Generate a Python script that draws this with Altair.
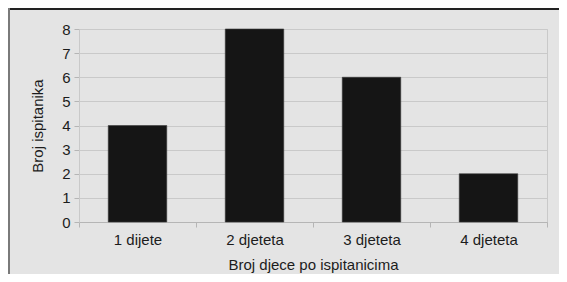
import altair as alt
import pandas as pd

categories = ["1 dijete", "2 djeteta", "3 djeteta", "4 djeteta"]
counts = [4, 8, 6, 2]
y_ticks = [0, 1, 2, 3, 4, 5, 6, 7, 8]

df = pd.DataFrame({"kategorija": categories, "broj": counts})

FONT = "Liberation Sans"
BG = "#e4e4e4"
GRID = "#c9c9c9"
TXT = "#1c1c1c"

bars = alt.Chart(df).mark_bar(
    width=alt.RelativeBandSize(0.5), color="#151515", stroke="#3a3a3a", strokeWidth=0.6
).encode(
    x=alt.X(
        "kategorija:N",
        sort=categories,
        scale=alt.Scale(paddingInner=0, paddingOuter=0),
        axis=alt.Axis(
            title="Broj djece po ispitanicima",
            labelAngle=0,
            tickBand="extent",
            tickSize=5,
            tickColor="#b5b5b5",
            domainColor="#b5b5b5",
            labelPadding=5,
            titlePadding=10,
            grid=False,
        ),
    ),
    y=alt.Y(
        "broj:Q",
        scale=alt.Scale(domain=[0, 8], nice=False),
        axis=alt.Axis(
            title="Broj ispitanika",
            values=y_ticks,
            tickSize=5,
            tickColor="#b5b5b5",
            domainColor="#c9c9c9",
            gridColor=GRID,
            labelPadding=4,
            titlePadding=16,
        ),
    ),
)

frame_df = pd.DataFrame({"k": [0]})
top_line = alt.Chart(frame_df).mark_rule(color="#222222", strokeWidth=2).encode(
    x=alt.value(-71), x2=alt.value(480), y=alt.value(-20)
)
left_line = alt.Chart(frame_df).mark_rule(color="#7a7a7a", strokeWidth=2).encode(
    x=alt.value(-70), y=alt.value(-21), y2=alt.value(245)
)

chart = alt.layer(bars, top_line, left_line).properties(
    width=468,
    height=193,
    padding={"left": 71, "top": 21, "right": 12, "bottom": 52},
    autosize=alt.AutoSizeParams(type="none"),
).configure(
    background=BG,
).configure_view(
    stroke=GRID,
).configure_axis(
    labelFont=FONT,
    titleFont=FONT,
    labelFontSize=15,
    titleFontSize=15,
    labelColor=TXT,
    titleColor=TXT,
    titleFontWeight="normal",
)

chart.save("out.html", embed_options={"renderer": "svg", "actions": False})
